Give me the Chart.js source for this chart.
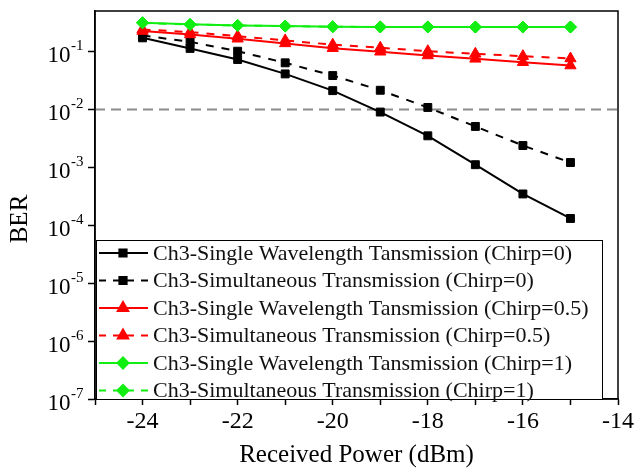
<!DOCTYPE html>
<html>
<head>
<meta charset="utf-8">
<script src="https://cdn.jsdelivr.net/npm/chart.js@4/dist/chart.umd.min.js"></script>
<style>
  html, body { margin: 0; padding: 0; background: #fff; }
  #wrap { width: 636px; height: 471px; }
</style>
</head>
<body>
<div id="wrap"><canvas id="c" width="636" height="471"></canvas></div>
<script>
const power = [-24, -23, -22, -21, -20, -19, -18, -17, -16, -15];

const singleChirp0 = [0.172, 0.113, 0.0727, 0.041, 0.0211, 0.0090, 0.0035, 0.00111, 0.000347, 0.000131];
const simulChirp0 = [0.189, 0.147, 0.101, 0.0637, 0.0384, 0.0214, 0.0108, 0.00508, 0.00238, 0.00121];
const singleChirp05 = [0.225, 0.197, 0.166, 0.138, 0.114, 0.0989, 0.0853, 0.0747, 0.0653, 0.0572];
const simulChirp05 = [0.240, 0.216, 0.184, 0.155, 0.131, 0.116, 0.101, 0.0912, 0.083, 0.0757];
const singleChirp1 = [0.314, 0.294, 0.282, 0.275, 0.268, 0.266, 0.266, 0.265, 0.265, 0.265];
const simulChirp1 = [0.312, 0.292, 0.281, 0.274, 0.267, 0.265, 0.265, 0.264, 0.264, 0.264];

const threshold = 0.01;
const yTicks = [1e-7, 1e-6, 1e-5, 1e-4, 1e-3, 1e-2, 1e-1];
const yTickExp = ["-7", "-6", "-5", "-4", "-3", "-2", "-1"];
const yTitle = "BER";

const serif = "'Liberation Serif', 'Times New Roman', serif";

const series = [
  { label: "Ch3-Single Wavelength Tansmission (Chirp=0)", data: singleChirp0, color: "#000", dash: [], shape: "rect", r: 5.6, order: 6 },
  { label: "Ch3-Simultaneous Transmission (Chirp=0)", data: simulChirp0, color: "#000", dash: [8, 8], shape: "rect", r: 5.6, order: 5 },
  { label: "Ch3-Single Wavelength Tansmission (Chirp=0.5)", data: singleChirp05, color: "#ff0000", dash: [], shape: "triangle", r: 6.5, order: 4 },
  { label: "Ch3-Simultaneous Transmission (Chirp=0.5)", data: simulChirp05, color: "#ff0000", dash: [8, 8], shape: "triangle", r: 6.5, order: 3 },
  { label: "Ch3-Single Wavelength Tansmission (Chirp=1)", data: singleChirp1, color: "#11ee11", dash: [], shape: "rectRot", r: 6, order: 1 },
  { label: "Ch3-Simultaneous Transmission (Chirp=1)", data: simulChirp1, color: "#11ee11", dash: [8, 8], shape: "rectRot", r: 6, order: 2 }
];

const datasets = series.map(s => ({
  label: s.label,
  data: power.map((p, i) => ({ x: p, y: s.data[i] })),
  borderColor: s.color,
  backgroundColor: s.color,
  borderWidth: 2,
  borderDash: s.dash,
  pointStyle: s.shape,
  pointRadius: s.r,
  pointBorderWidth: 1,
  pointBorderColor: s.color,
  pointBackgroundColor: s.color,
  tension: 0,
  order: s.order
}));

datasets.push({
  label: "threshold",
  data: [{ x: -25, y: threshold }, { x: -14, y: threshold }],
  borderColor: "#8c8c8c",
  borderWidth: 2,
  borderDash: [10, 6],
  pointRadius: 0,
  order: 10
});

// frame, y tick labels with superscripts, y title, legend box in the lower-left corner
const framePlugin = {
  id: "frame",
  afterDraw(chart) {
    const { ctx, chartArea: a } = chart;
    const yScale = chart.scales.y;
    ctx.save();
    ctx.strokeStyle = "#000";
    ctx.lineWidth = 1.5;
    ctx.strokeRect(a.left, a.top, a.right - a.left, a.bottom - a.top);

    // y tick labels: 10^n
    ctx.fillStyle = "#000";
    ctx.textBaseline = "alphabetic";
    ctx.textAlign = "left";
    yTicks.forEach((v, i) => {
      const y = yScale.getPixelForValue(v);
      ctx.font = "23px " + serif;
      const wBase = ctx.measureText("10").width;
      ctx.font = "15px " + serif;
      const wExp = ctx.measureText(yTickExp[i]).width;
      const x0 = 83 - wBase - wExp;
      ctx.font = "23px " + serif;
      ctx.fillText("10", x0, y + 10.5);
      ctx.font = "15px " + serif;
      ctx.fillText(yTickExp[i], x0 + wBase + 0.5, y - 1.5);
    });

    // y title
    ctx.save();
    ctx.translate(20, 219);
    ctx.rotate(-Math.PI / 2);
    ctx.font = "25px " + serif;
    ctx.textAlign = "center";
    ctx.textBaseline = "middle";
    ctx.fillText(yTitle, 0, 0);
    ctx.restore();

    // legend
    const bx = a.left + 1, by = 240, bw = 506, bh = a.bottom - by;
    ctx.fillStyle = "#fff";
    ctx.fillRect(bx, by, bw, bh);
    ctx.lineWidth = 1;
    ctx.strokeStyle = "#000";
    ctx.strokeRect(bx + 0.5, by + 0.5, bw, bh);

    ctx.font = "22px " + serif;
    ctx.textBaseline = "middle";
    ctx.textAlign = "left";
    series.forEach((s, i) => {
      const y = by + 13 + i * 27.5;
      ctx.strokeStyle = s.color;
      ctx.fillStyle = s.color;
      ctx.lineWidth = 2;
      ctx.setLineDash(s.dash.length ? [7, 7] : []);
      ctx.beginPath();
      ctx.moveTo(bx + 3, y);
      ctx.lineTo(bx + 52, y);
      ctx.stroke();
      ctx.setLineDash([]);
      Chart.helpers.drawPoint(ctx, { pointStyle: s.shape, radius: s.r - 0.5, borderWidth: 1 }, bx + 27, y);
      ctx.fillStyle = "#111";
      ctx.fillText(s.label, bx + 57, y + 1);
    });
    ctx.restore();
  }
};

new Chart(document.getElementById("c"), {
  type: "line",
  data: { datasets },
  options: {
    responsive: false,
    animation: false,
    layout: { padding: { top: 11, right: 17, left: 0, bottom: 0 } },
    plugins: { legend: { display: false }, tooltip: { enabled: false } },
    scales: {
      x: {
        type: "linear",
        min: -25,
        max: -14,
        afterFit: s => { s.height = 72; },
        afterBuildTicks: s => { s.ticks = power.concat([-25, -14]).sort((a, b) => a - b).map(v => ({ value: v })); },
        ticks: {
          color: "#000",
          autoSkip: false,
          maxRotation: 0,
          padding: 2,
          font: { family: serif, size: 24 },
          callback: v => (v % 2 === 0 ? String(v) : "")
        },
        grid: { drawOnChartArea: false, drawTicks: true, tickLength: 6, color: "#000", tickWidth: 1.5 },
        border: { display: true, color: "#000", width: 1.5 },
        title: {
          display: true,
          text: "Received Power (dBm)",
          color: "#000",
          font: { family: serif, size: 25 },
          padding: { top: 0, bottom: 1 }
        }
      },
      y: {
        type: "logarithmic",
        min: 1e-7,
        max: 0.5,
        afterFit: s => { s.width = 95; },
        afterBuildTicks: s => { s.ticks = yTicks.map(v => ({ value: v })); },
        ticks: { display: false },
        grid: { drawOnChartArea: false, drawTicks: true, tickLength: 7, color: "#000", tickWidth: 1.5 },
        border: { display: true, color: "#000", width: 1.5 }
      }
    }
  },
  plugins: [framePlugin]
});
</script>
</body>
</html>
